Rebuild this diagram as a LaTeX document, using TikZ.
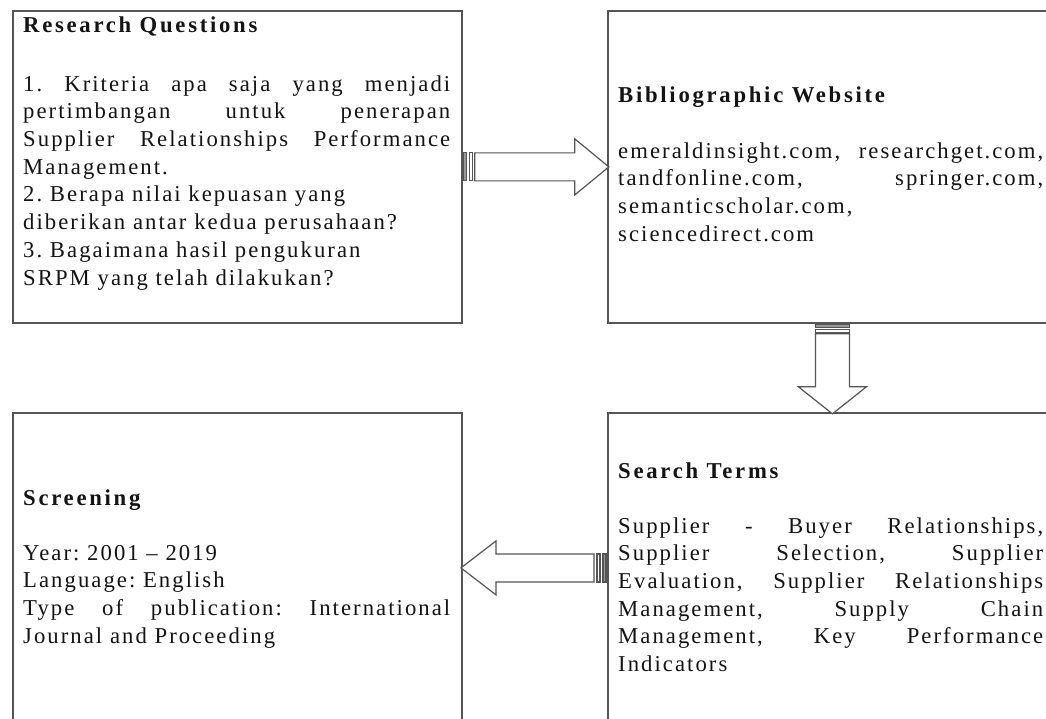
\documentclass[tikz,border=0pt]{standalone}
\usepackage{fontspec}
\setmainfont{Liberation Serif}[LetterSpace=9]
\definecolor{framegray}{RGB}{85,85,85}
\definecolor{inkblack}{RGB}{20,20,20}
\newcommand{\paneltextsize}{\fontsize{22.7pt}{27.7pt}\selectfont}
\frenchspacing
\begin{document}
\begin{tikzpicture}[x=1pt,y=-1pt,
  panel/.style={draw=framegray, line width=1.8pt, fill=white,
    minimum width=449pt, inner sep=0pt, anchor=north west},
  head/.style={inner sep=0pt, anchor=base west, text=inkblack,
    font=\paneltextsize\bfseries\addfontfeature{LetterSpace=12}},
  body/.style={inner sep=0pt, anchor=north west, text=inkblack, align=justify,
    font=\paneltextsize,
    execute at begin node={\frenchspacing\tolerance=10000\relax\hyphenpenalty=10000\relax}},
  blockarrow/.style={draw=framegray, line width=1.2pt, fill=white, line join=miter},
  tailbar/.style={draw=framegray, line width=1.2pt, fill=framegray!60}
]
\useasboundingbox (0,0) rectangle (1046,719);
\clip (0,0) rectangle (1046,719);
\fill[white] (0,0) rectangle (1046,719);

% the four panels
\node[panel, minimum height=312pt] (rq) at (12,10) {};
\node[panel, minimum height=312pt] (bw) at (607,10) {};
\node[panel, minimum height=310pt] (st) at (607,412) {};
\node[panel, minimum height=310pt] (sc) at (12,412) {};

% texts of the panels
\node[head] (rqh) at (23,33) {Research Questions};
\node[body, text width=427pt] (rqb) at (23,71.6) {\strut 1. Kriteria apa saja yang menjadi\linebreak
  pertimbangan untuk penerapan\linebreak
  Supplier Relationships Performance\linebreak
  Management.\\
  2. Berapa nilai kepuasan yang\\
  diberikan antar kedua perusahaan?\\
  3. Bagaimana hasil pengukuran\\
  SRPM yang telah dilakukan?};

\node[head] (bwh) at (618,103) {Bibliographic Website};
\node[body, text width=425pt] (bwb) at (618,138.6) {\strut emeraldinsight.com, researchget.com,\linebreak
  tandfonline.com, springer.com,\linebreak
  semanticscholar.com,\\
  sciencedirect.com};

\node[head] (sth) at (618,478) {Search Terms};
\node[body, text width=425pt] (stb) at (618,513.6) {\strut Supplier - Buyer Relationships,\linebreak
  Supplier Selection, Supplier\linebreak
  Evaluation, Supplier Relationships\linebreak
  Management, Supply Chain\linebreak
  Management, Key Performance\linebreak
  Indicators};

\node[head] (sch) at (23,505) {Screening};
\node[body, text width=427pt] (scb) at (23,540.6) {\strut Year: 2001 – 2019\\
  Language: English\\
  Type of publication: International\linebreak
  Journal and Proceeding};

% striped block arrow: Research Questions -> Bibliographic Website
\begin{scope}[shift={(rq.east)}]
  \draw[blockarrow] (12,-14) -- (112,-14) -- (112,-28) -- (146,0)
    -- (112,28) -- (112,14) -- (12,14) -- cycle;
  \draw[tailbar] (1,-14) rectangle (4,14);
  \draw[blockarrow] (7,-14) rectangle (10,14);
\end{scope}

% striped block arrow: Bibliographic Website -> Search Terms
\begin{scope}[shift={(bw.south)}]
  \draw[blockarrow] (-17,10) -- (-17,63) -- (-34,63) -- (0,90)
    -- (34,63) -- (17,63) -- (17,10) -- cycle;
  \draw[tailbar] (-17,1) rectangle (17,3.5);
  \draw[blockarrow] (-17,6) rectangle (17,9);
\end{scope}

% striped block arrow: Search Terms -> Screening
\begin{scope}[shift={(st.west)}]
  \draw[blockarrow] (-13,-14) -- (-111,-14) -- (-111,-27) -- (-146,0)
    -- (-111,27) -- (-111,14) -- (-13,14) -- cycle;
  \draw[blockarrow] (-10,-14) rectangle (-7,14);
  \draw[tailbar] (-4,-14) rectangle (-1,14);
\end{scope}
\end{tikzpicture}
\end{document}
